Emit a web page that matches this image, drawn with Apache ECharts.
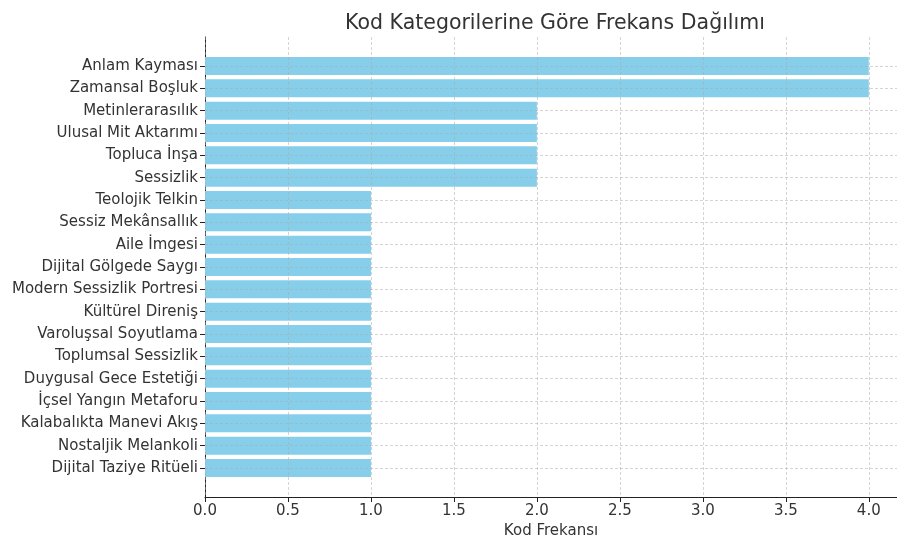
<!DOCTYPE html>
<html>
<head>
<meta charset="utf-8">
<script src="https://cdn.jsdelivr.net/npm/echarts@6/dist/echarts.min.js"></script>
<style>
  html, body { margin: 0; padding: 0; background: #fff; }
  #chart { width: 897px; height: 537px; }
</style>
</head>
<body>
<div id="chart"></div>
<script>
  // kategori adlari (yukaridan asagiya)
  var categories = [
    'Anlam Kayması', 'Zamansal Boşluk', 'Metinlerarasılık', 'Ulusal Mit Aktarımı',
    'Topluca İnşa', 'Sessizlik', 'Teolojik Telkin', 'Sessiz Mekânsallık',
    'Aile İmgesi', 'Dijital Gölgede Saygı', 'Modern Sessizlik Portresi', 'Kültürel Direniş',
    'Varoluşsal Soyutlama', 'Toplumsal Sessizlik', 'Duygusal Gece Estetiği', 'İçsel Yangın Metaforu',
    'Kalabalıkta Manevi Akış', 'Nostaljik Melankoli', 'Dijital Taziye Ritüeli'
  ];
  var frequencies = [4, 4, 2, 2, 2, 2, 1, 1, 1, 1, 1, 1, 1, 1, 1, 1, 1, 1, 1];
  var xTicks = ['0.0', '0.5', '1.0', '1.5', '2.0', '2.5', '3.0', '3.5', '4.0'];

  var font = 'DejaVu Sans';
  var textColor = '#333';
  var gridLine = { show: true, lineStyle: { color: 'rgba(170,170,170,0.5)', type: [3, 2], width: 1 } };

  var myChart = echarts.init(document.getElementById('chart'));
  var option = {
    animation: false,
    title: {
      text: 'Kod Kategorilerine Göre Frekans Dağılımı',
      left: 550,
      top: 8,
      textAlign: 'center',
      textStyle: { fontFamily: font, fontSize: 20.5, fontWeight: 'normal', color: textColor }
    },
    grid: [
      // cerceve + x ekseni
      { left: 205, right: 0, top: 37, bottom: 40, outerBoundsMode: 'none', containLabel: false },
      // kategoriler
      { left: 205, right: 0, top: 66, bottom: 69, outerBoundsMode: 'none', containLabel: false }
    ],
    xAxis: [
      {
        gridIndex: 0,
        type: 'value',
        min: 0,
        max: 4.17,
        interval: 0.5,
        z: 5,
        name: 'Kod Frekansı',
        nameLocation: 'middle',
        nameGap: 26,
        nameTextStyle: { fontFamily: font, fontSize: 15, color: textColor },
        axisLine: { show: true, lineStyle: { color: '#222', width: 1 } },
        axisTick: { show: true, length: 5, lineStyle: { color: '#222' } },
        axisLabel: {
          show: true, margin: 7, fontFamily: font, fontSize: 15, color: textColor,
          showMaxLabel: false,
          formatter: function (v) {
            var i = Math.round(v / 0.5);
            return xTicks[i] !== undefined && Math.abs(v - i * 0.5) < 1e-6 ? xTicks[i] : '';
          }
        },
        splitLine: gridLine
      },
      {
        gridIndex: 1,
        type: 'value',
        min: 0,
        max: 4.17,
        show: false
      }
    ],
    yAxis: [
      {
        gridIndex: 0,
        type: 'value',
        min: 0,
        max: 1,
        axisLine: { show: true, lineStyle: { color: '#222', width: 1 } },
        axisTick: { show: false },
        axisLabel: { show: false },
        splitLine: { show: false }
      },
      {
        gridIndex: 1,
        type: 'category',
        data: categories,
        inverse: true,
        boundaryGap: false,
        z: 5,
        axisLine: { show: false },
        axisTick: { show: true, length: 5, lineStyle: { color: '#222' } },
        axisLabel: { margin: 7, fontFamily: font, fontSize: 15, color: textColor },
        splitLine: gridLine
      }
    ],
    series: [{
      type: 'bar',
      xAxisIndex: 1,
      yAxisIndex: 1,
      data: frequencies,
      barWidth: 18,
      clip: false,
      itemStyle: { color: '#87CEEB' }
    }]
  };
  myChart.setOption(option);
</script>
</body>
</html>
